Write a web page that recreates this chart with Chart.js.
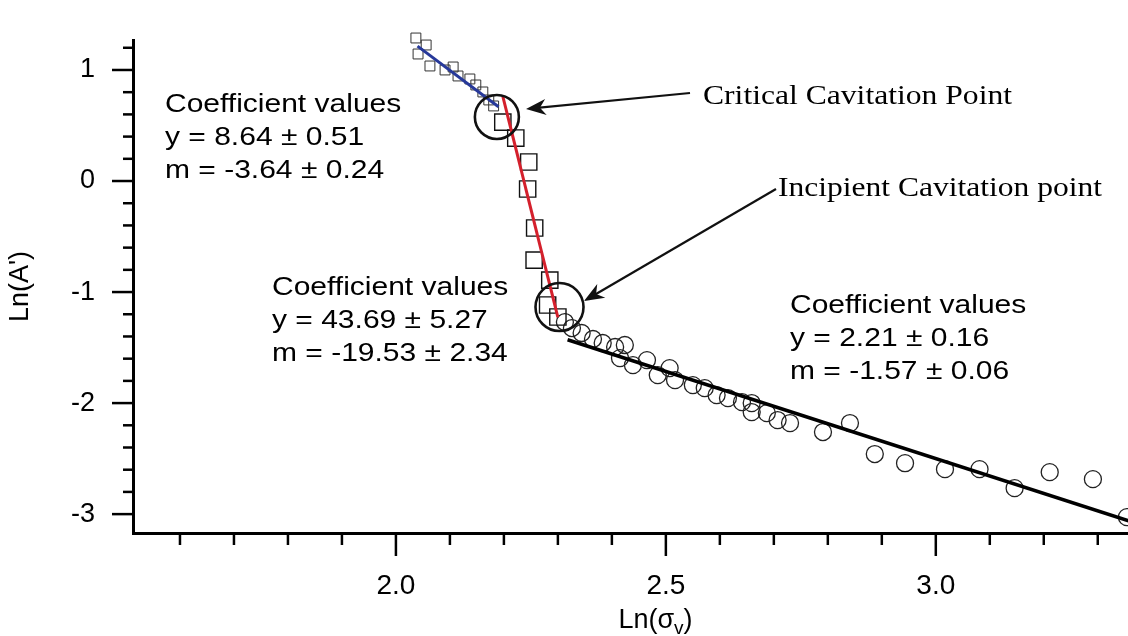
<!DOCTYPE html>
<html>
<head>
<meta charset="utf-8">
<script src="https://cdn.jsdelivr.net/npm/chart.js@4.4.1/dist/chart.umd.min.js"></script>
<style>
  html, body { margin: 0; padding: 0; background: #fff; }
  #wrap { width: 1128px; height: 636px; position: relative; }
</style>
</head>
<body>
<div id="wrap"><canvas id="cavitation"></canvas></div>
<script>
// upper branch, small squares
var upperX = [2.037, 2.056, 2.041, 2.063, 2.091, 2.106, 2.115, 2.137, 2.148, 2.161, 2.172, 2.181];
var upperY = [1.288, 1.225, 1.144, 1.036, 1.000, 1.027, 0.946, 0.919, 0.865, 0.802, 0.730, 0.676];

// steep branch, large squares
var steepX = [2.198, 2.222, 2.246, 2.244, 2.257, 2.256, 2.285, 2.281, 2.300];
var steepY = [0.530, 0.387, 0.171, -0.072, -0.423, -0.712, -0.892, -1.117, -1.225];

// lower branch, circles
var lowerX = [2.313, 2.326, 2.344, 2.365, 2.383, 2.406, 2.424, 2.415, 2.439, 2.465, 2.485, 2.507,
              2.517, 2.550, 2.572, 2.594, 2.615, 2.641, 2.659, 2.659, 2.687, 2.707, 2.730, 2.791,
              2.841, 2.887, 2.943, 3.017, 3.081, 3.146, 3.211, 3.291, 3.354];
var lowerY = [-1.270, -1.324, -1.369, -1.423, -1.459, -1.495, -1.477, -1.595, -1.658, -1.613, -1.748, -1.685,
              -1.793, -1.838, -1.865, -1.928, -1.955, -1.991, -2.000, -2.081, -2.090, -2.153, -2.180, -2.261,
              -2.180, -2.459, -2.541, -2.595, -2.595, -2.766, -2.622, -2.685, -3.027];

// linear fits  Ln(A') = y + m * Ln(sigma_v)
var fitIntercept = [8.64, 43.69, 2.21];
var fitInterceptErr = [0.51, 5.27, 0.16];
var fitSlope = [-3.64, -19.53, -1.57];
var fitSlopeErr = [0.24, 2.34, 0.06];
var fitFrom = [2.040, 2.198, 2.318];
var fitTo = [2.190, 2.300, 3.360];
var fitColors = ['#27399a', '#d4202c', '#000000'];

var xMajorTicks = [2.0, 2.5, 3.0];
var yMajorTicks = [-3, -2, -1, 0, 1];

function pts(xs, ys) {
    return xs.map(function(x, i) { return { x: x, y: ys[i] }; });
}

function fitLine(i) {
    return [fitFrom[i], fitTo[i]].map(function(x) {
        return { x: x, y: fitIntercept[i] + fitSlope[i] * x };
    });
}

var SANS = '"Liberation Sans", Arial, sans-serif';
var SERIF = '"Liberation Serif", "Times New Roman", serif';

// stretched text helper (the annotation text is wide)
function wideText(ctx, text, x, y, sx) {
    ctx.save();
    ctx.translate(x, y);
    ctx.scale(sx, 1);
    ctx.fillText(text, 0, 0);
    ctx.restore();
}

function arrow(ctx, x1, y1, x2, y2) {
    var a = Math.atan2(y2 - y1, x2 - x1);
    ctx.save();
    ctx.strokeStyle = '#111';
    ctx.fillStyle = '#111';
    ctx.lineWidth = 2.2;
    ctx.beginPath();
    ctx.moveTo(x1, y1);
    ctx.lineTo(x2 - 6 * Math.cos(a), y2 - 6 * Math.sin(a));
    ctx.stroke();
    ctx.translate(x2, y2);
    ctx.rotate(a);
    ctx.beginPath();
    ctx.moveTo(0, 0);
    ctx.lineTo(-20, -8);
    ctx.lineTo(-14, 0);
    ctx.lineTo(-20, 8);
    ctx.closePath();
    ctx.fill();
    ctx.restore();
}

var pm = '\u00b1';
function coeffLines(i) {
    return [
        'Coefficient values',
        'y = ' + fitIntercept[i].toFixed(2) + ' ' + pm + ' ' + fitInterceptErr[i].toFixed(2),
        'm = ' + fitSlope[i].toFixed(2) + ' ' + pm + ' ' + fitSlopeErr[i].toFixed(2)
    ];
}

// keep the plot box where it is: no extra room for half tick labels
function noMargins(scale) {
    scale.paddingTop = 0;
    scale.paddingBottom = 0;
    scale.paddingLeft = 0;
    scale.paddingRight = 0;
}

var decorations = {
    id: 'decorations',
    afterDatasetsDraw: function(chart) {
        var ctx = chart.ctx;
        var xs = chart.scales.x, ys = chart.scales.y;
        var area = chart.chartArea;

        // tick marks
        ctx.save();
        ctx.strokeStyle = '#000';
        ctx.lineWidth = 2.5;
        for (var k = -16; k <= 6; k++) {
            var v = k / 5;
            if (v < ys.min || v > ys.max) continue;
            var py = ys.getPixelForValue(v);
            var major = Math.abs(v - Math.round(v)) < 1e-6;
            ctx.beginPath();
            ctx.moveTo(area.left, py);
            ctx.lineTo(area.left - (major ? 21 : 10), py);
            ctx.stroke();
        }
        for (var j = 16; j <= 34; j++) {
            var xv = j / 10;
            if (xv < xs.min || xv > xs.max) continue;
            var px = xs.getPixelForValue(xv);
            var isMajor = j % 5 === 0;
            ctx.beginPath();
            ctx.moveTo(px, area.bottom);
            ctx.lineTo(px, area.bottom + (isMajor ? 23 : 12));
            ctx.stroke();
        }
        ctx.restore();

        // x axis title with subscript
        ctx.save();
        ctx.fillStyle = '#000';
        ctx.textBaseline = 'alphabetic';
        var a1 = 'Ln(\u03c3', a3 = ')';
        ctx.font = '19px ' + SANS;
        var wSub = ctx.measureText('v').width;
        ctx.font = '27px ' + SANS;
        var w1 = ctx.measureText(a1).width, w3 = ctx.measureText(a3).width;
        var tx = (area.left + area.right) / 2 + 25 - (w1 + wSub + w3) / 2;
        var ty = 628;
        ctx.fillText(a1, tx, ty);
        ctx.fillText(a3, tx + w1 + wSub, ty);
        ctx.font = '19px ' + SANS;
        ctx.fillText('v', tx + w1, ty + 6);
        ctx.restore();

        // circled transition points
        ctx.save();
        ctx.strokeStyle = '#111';
        ctx.lineWidth = 2.6;
        ctx.beginPath();
        ctx.arc(xs.getPixelForValue(2.187), ys.getPixelForValue(0.577), 22, 0, Math.PI * 2);
        ctx.stroke();
        ctx.beginPath();
        ctx.arc(xs.getPixelForValue(2.303), ys.getPixelForValue(-1.135), 24, 0, Math.PI * 2);
        ctx.stroke();
        ctx.restore();

        arrow(ctx, 690, 93, 526, 109);
        arrow(ctx, 776, 189, 584, 301);

        // fit coefficients
        ctx.save();
        ctx.fillStyle = '#000';
        ctx.font = '25px ' + SANS;
        ctx.textBaseline = 'alphabetic';
        var blocks = [[165, 112], [272, 295], [790, 313]];
        blocks.forEach(function(b, i) {
            coeffLines(i).forEach(function(line, n) {
                wideText(ctx, line, b[0], b[1] + n * 33, 1.2);
            });
        });

        ctx.font = '27px ' + SERIF;
        var t1 = 'Critical Cavitation Point';
        var t2 = 'Incipient Cavitation point';
        wideText(ctx, t1, 703, 104, 309 / ctx.measureText(t1).width);
        wideText(ctx, t2, 778, 196, 324 / ctx.measureText(t2).width);
        ctx.restore();
    }
};

var fitSets = fitIntercept.map(function(_, i) {
    return {
        type: 'line',
        data: fitLine(i),
        borderColor: fitColors[i],
        borderWidth: i === 2 ? 3.5 : 3,
        pointRadius: 0,
        fill: false,
        order: 1
    };
});

new Chart(document.getElementById('cavitation'), {
    type: 'scatter',
    data: {
        datasets: [{
            data: pts(upperX, upperY),
            pointStyle: 'rect',
            pointRadius: 7,
            borderColor: '#333',
            backgroundColor: 'rgba(255,255,255,0)',
            borderWidth: 1,
            clip: false,
            order: 2
        }, {
            data: pts(steepX, steepY),
            pointStyle: 'rect',
            pointRadius: 11.5,
            borderColor: '#111',
            backgroundColor: 'rgba(255,255,255,0)',
            borderWidth: 1.4,
            order: 2
        }, {
            data: pts(lowerX, lowerY),
            pointStyle: 'circle',
            pointRadius: 8.5,
            borderColor: '#222',
            backgroundColor: 'rgba(255,255,255,0)',
            borderWidth: 1.3,
            order: 2
        }].concat(fitSets)
    },
    options: {
        responsive: true,
        maintainAspectRatio: false,
        animation: false,
        layout: { autoPadding: false, padding: { top: 40, right: 0, left: 0, bottom: 0 } },
        plugins: {
            legend: { display: false },
            tooltip: { enabled: false }
        },
        scales: {
            x: {
                type: 'linear',
                min: 1.513,
                max: 3.356,
                afterBuildTicks: function(scale) {
                    scale.ticks = xMajorTicks.map(function(v) { return { value: v }; });
                },
                afterFit: function(scale) { scale.height = 103; noMargins(scale); },
                grid: { display: false, drawTicks: false },
                border: { display: true, color: '#000', width: 3 },
                ticks: {
                    color: '#000',
                    padding: 36,
                    font: { family: SANS, size: 28 },
                    callback: function(v) { return v.toFixed(1); }
                }
            },
            y: {
                type: 'linear',
                min: -3.17,
                max: 1.27,
                afterBuildTicks: function(scale) {
                    scale.ticks = yMajorTicks.map(function(v) { return { value: v }; });
                },
                afterFit: function(scale) { scale.width = 133; noMargins(scale); },
                grid: { display: false, drawTicks: false },
                border: { display: true, color: '#000', width: 3 },
                ticks: {
                    color: '#000',
                    padding: 38,
                    font: { family: SANS, size: 27 },
                    callback: function(v) { return String(v); }
                },
                title: {
                    display: true,
                    text: "Ln(A')",
                    color: '#000',
                    font: { family: SANS, size: 27 },
                    padding: { top: 4, bottom: 0 }
                }
            }
        }
    },
    plugins: [decorations]
});
</script>
</body>
</html>
